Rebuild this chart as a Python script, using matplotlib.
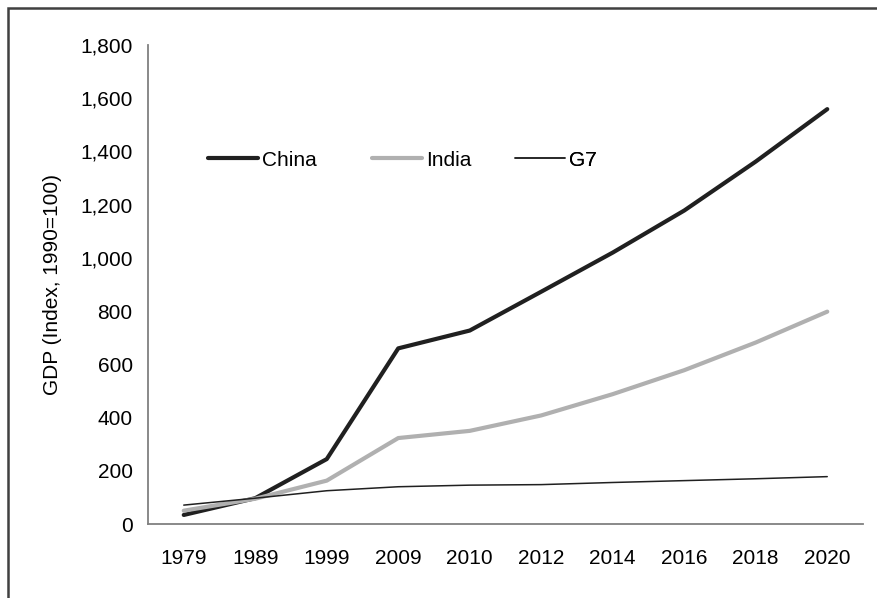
import matplotlib
matplotlib.use("Agg")
import matplotlib.pyplot as plt
from matplotlib.patches import Rectangle
from matplotlib.ticker import FuncFormatter

years = ["1979", "1989", "1999", "2009", "2010", "2012", "2014", "2016", "2018", "2020"]
china = [34, 97, 244, 660, 727, 873, 1020, 1178, 1362, 1559]
india = [50, 95, 163, 323, 350, 408, 488, 578, 682, 798]
g7 = [71, 97, 125, 140, 146, 148, 156, 163, 170, 178]

plt.rcParams['font.family'] = ['Liberation Sans', 'DejaVu Sans']

W, H = 878, 598
fig = plt.figure(figsize=(W / 100, H / 100), dpi=100)
ax = fig.add_axes([148 / W, 1 - 524 / H, (863 - 148) / W, (524 - 45) / H])

x = list(range(len(years)))
l1, = ax.plot(x, china, color='#202020', lw=3.0, label='China', solid_capstyle='round')
l2, = ax.plot(x, india, color='#b0b0b0', lw=3.0, label='India', solid_capstyle='round')
l3, = ax.plot(x, g7, color='#202020', lw=1.1, label='G7', solid_capstyle='round')

ax.set_xlim(-0.5, len(years) - 0.5)
ax.set_ylim(0, 1800)
ax.set_xticks(x)
ax.set_xticklabels(years)
ax.set_yticks(range(0, 1801, 200))
ax.yaxis.set_major_formatter(FuncFormatter(lambda v, p: f"{int(v):,}"))
ax.tick_params(axis='both', length=0, labelsize=15, colors='black')
ax.tick_params(axis='x', pad=18)
ax.tick_params(axis='y', pad=11)
for s in ['top', 'right']:
    ax.spines[s].set_visible(False)
for s in ['left', 'bottom']:
    ax.spines[s].set_color('#808080')
    ax.spines[s].set_linewidth(1.3)

ax.set_ylabel("GDP (Index, 1990=100)", fontsize=15, labelpad=13)

# legend entries placed individually (Excel-style spacing)
for line, px in [(l1, 208), (l2, 372), (l3, 515)]:
    lg = ax.legend([line], [line.get_label()], loc='center left',
                   bbox_to_anchor=((px - 148) / 715, (524 - 160) / 479),
                   frameon=False, borderpad=0, borderaxespad=0,
                   fontsize=15, handlelength=2.4, handletextpad=0.2)
    ax.add_artist(lg)

fig.patches.append(Rectangle((8 / W, -0.1), 1.2, 1 - 8 / H + 0.1, transform=fig.transFigure,
                             fill=False, edgecolor='#404040', lw=1.8))

fig.savefig("out.png", dpi=100)
